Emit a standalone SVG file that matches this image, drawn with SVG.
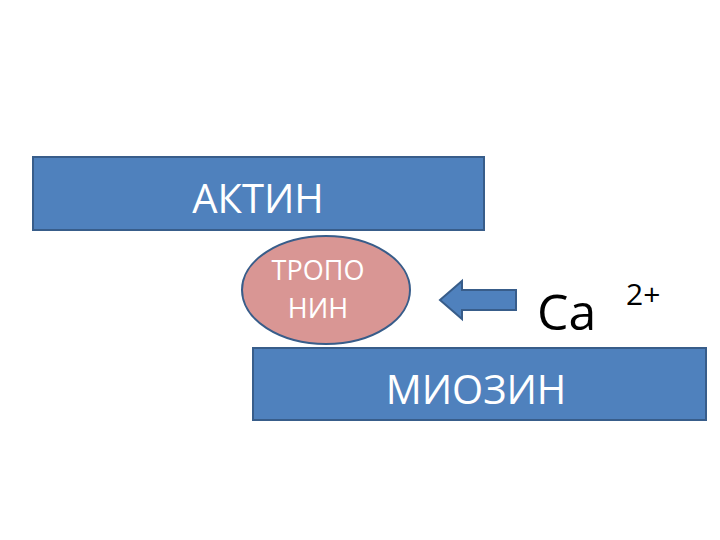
<svg xmlns="http://www.w3.org/2000/svg" width="720" height="540" viewBox="0 0 720 540">
<style>
.box{fill:#4f81bd;stroke:#385d8a;stroke-width:2}
.t{font-family:"Open Sans","Liberation Sans",sans-serif;fill:#fff}
</style>
<rect width="720" height="540" fill="#fff"/>
<g id="actin"><rect class="box" x="33" y="157" width="451" height="73"/><text class="t" x="258" y="213" font-size="40" text-anchor="middle">АКТИН</text></g>
<g id="myosin"><rect class="box" x="253" y="348" width="453" height="72"/><text class="t" x="476" y="404" font-size="40" text-anchor="middle">МИОЗИН</text></g>
<g id="troponin"><ellipse cx="326" cy="290" rx="84" ry="54" fill="#d99694" stroke="#385d8a" stroke-width="2"/><text class="t" x="318" y="280" font-size="27" text-anchor="middle">ТРОПО</text><text class="t" x="318" y="318" font-size="27" text-anchor="middle">НИН</text></g>
<g id="ca"><text x="537" y="330" font-family="'Open Sans','Liberation Sans',sans-serif" font-size="50" fill="#000">Ca</text><text x="626" y="305" font-family="'Open Sans','Liberation Sans',sans-serif" font-size="30" fill="#000">2+</text></g>
<g id="connectors"><path d="M516,290 L462,290 L462,281 L440,300 L462,319 L462,310 L516,310 Z" fill="#4f81bd" stroke="#385d8a" stroke-width="2"/></g>
</svg>
